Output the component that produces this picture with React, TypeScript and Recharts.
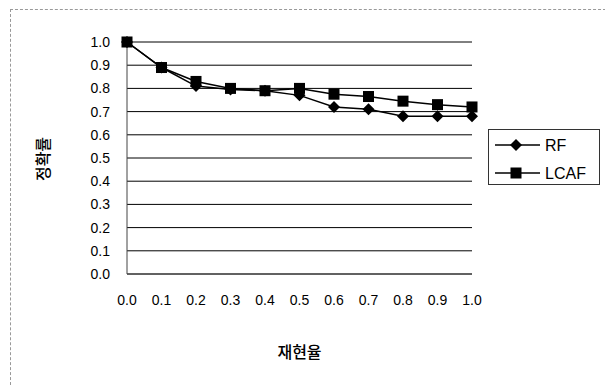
import { LineChart, Line, XAxis, YAxis, CartesianGrid } from 'recharts';

const recallLabels = ['0.0', '0.1', '0.2', '0.3', '0.4', '0.5', '0.6', '0.7', '0.8', '0.9', '1.0'];
const rfValues = [1.0, 0.89, 0.81, 0.795, 0.79, 0.77, 0.72, 0.71, 0.68, 0.68, 0.68];
const lcafValues = [1.0, 0.89, 0.83, 0.80, 0.79, 0.80, 0.775, 0.765, 0.745, 0.73, 0.72];
const yTicks = [0, 0.1, 0.2, 0.3, 0.4, 0.5, 0.6, 0.7, 0.8, 0.9, 1.0];

const data = recallLabels.map((r, i) => ({ recall: r, RF: rfValues[i], LCAF: lcafValues[i] }));

const FONT = '"Liberation Sans", Arial, sans-serif';
const KFONT = '"Noto Sans CJK KR", sans-serif';

function Diamond(props: any) {
  const { cx, cy, size = 6 } = props;
  if (cx == null || cy == null) return null;
  return <path d={`M${cx},${cy - size}L${cx + size},${cy}L${cx},${cy + size}L${cx - size},${cy}Z`} fill="#000" />;
}

function Square(props: any) {
  const { cx, cy, size = 5.5 } = props;
  if (cx == null || cy == null) return null;
  return <rect x={cx - size} y={cy - size} width={size * 2} height={size * 2} fill="#000" />;
}

function LegendBox() {
  const rows = [
    { name: 'RF', Marker: Diamond },
    { name: 'LCAF', Marker: Square },
  ];
  return (
    <svg width={113} height={56} style={{ position: 'absolute', left: 488, top: 129 }}>
      <rect x={0.5} y={0.5} width={111} height={55} fill="#fff" stroke="#333" />
      {rows.map((r, i) => {
        const y = 16 + i * 28;
        return (
          <g key={r.name}>
            <line x1={7} x2={52} y1={y} y2={y} stroke="#000" strokeWidth={1.5} />
            <r.Marker cx={28} cy={y} />
            <text x={57} y={y + 6} fontSize={16} fontFamily={FONT} fill="#000">{r.name}</text>
          </g>
        );
      })}
    </svg>
  );
}

function YTitle() {
  return (
    <text
      x={42}
      y={159}
      fontSize={16}
      fontWeight={500}
      fontFamily={KFONT}
      fill="#000"
      textAnchor="middle"
      dominantBaseline="central"
      transform="rotate(-90, 42, 159)"
    >
      정확률
    </text>
  );
}

export default function App() {
  return (
    <div style={{ position: 'fixed', left: 0, top: 0, width: 605, height: 385, background: '#fff' }}>
      <div style={{ position: 'absolute', left: 10, top: 9, width: 600, height: 380, borderLeft: '1px dashed #999', borderTop: '1px dashed #999' }} />
      <LineChart
        width={605}
        height={385}
        data={data}
        margin={{ left: 87, right: 133, top: 42, bottom: 81 }}
      >
        <CartesianGrid yAxisId="l" horizontal vertical={false} stroke="#000" strokeWidth={1} />
        <XAxis
          dataKey="recall"
          height={30}
          axisLine={{ stroke: '#444' }}
          tickLine={false}
          tickSize={0}
          tickMargin={21}
          tick={{ fill: '#000', fontSize: 14, fontFamily: FONT }}
          interval={0}
          label={{ value: '재현율', position: 'bottom', offset: 43, fill: '#000', fontSize: 16, fontWeight: 500, fontFamily: KFONT }}
        />
        <YAxis
          yAxisId="l"
          width={40}
          domain={[0, 1]}
          ticks={yTicks}
          interval={0}
          tickFormatter={(v: number) => v.toFixed(1)}
          axisLine={{ stroke: '#444' }}
          tickLine={false}
          tickSize={0}
          tickMargin={17}
          tick={{ fill: '#000', fontSize: 14, fontFamily: FONT }}
          label={{ content: <YTitle /> }}
        />
        <YAxis
          yAxisId="r"
          orientation="right"
          width={0}
          domain={[0, 1]}
          tick={false}
          tickLine={false}
          axisLine={{ stroke: '#444' }}
        />
        <Line
          yAxisId="l"
          dataKey="RF"
          stroke="#000"
          strokeWidth={1.5}
          dot={<Diamond />}
          activeDot={false}
          isAnimationActive={false}
        />
        <Line
          yAxisId="l"
          dataKey="LCAF"
          stroke="#000"
          strokeWidth={1.5}
          dot={<Square />}
          activeDot={false}
          isAnimationActive={false}
        />
      </LineChart>
      <LegendBox />
    </div>
  );
}
